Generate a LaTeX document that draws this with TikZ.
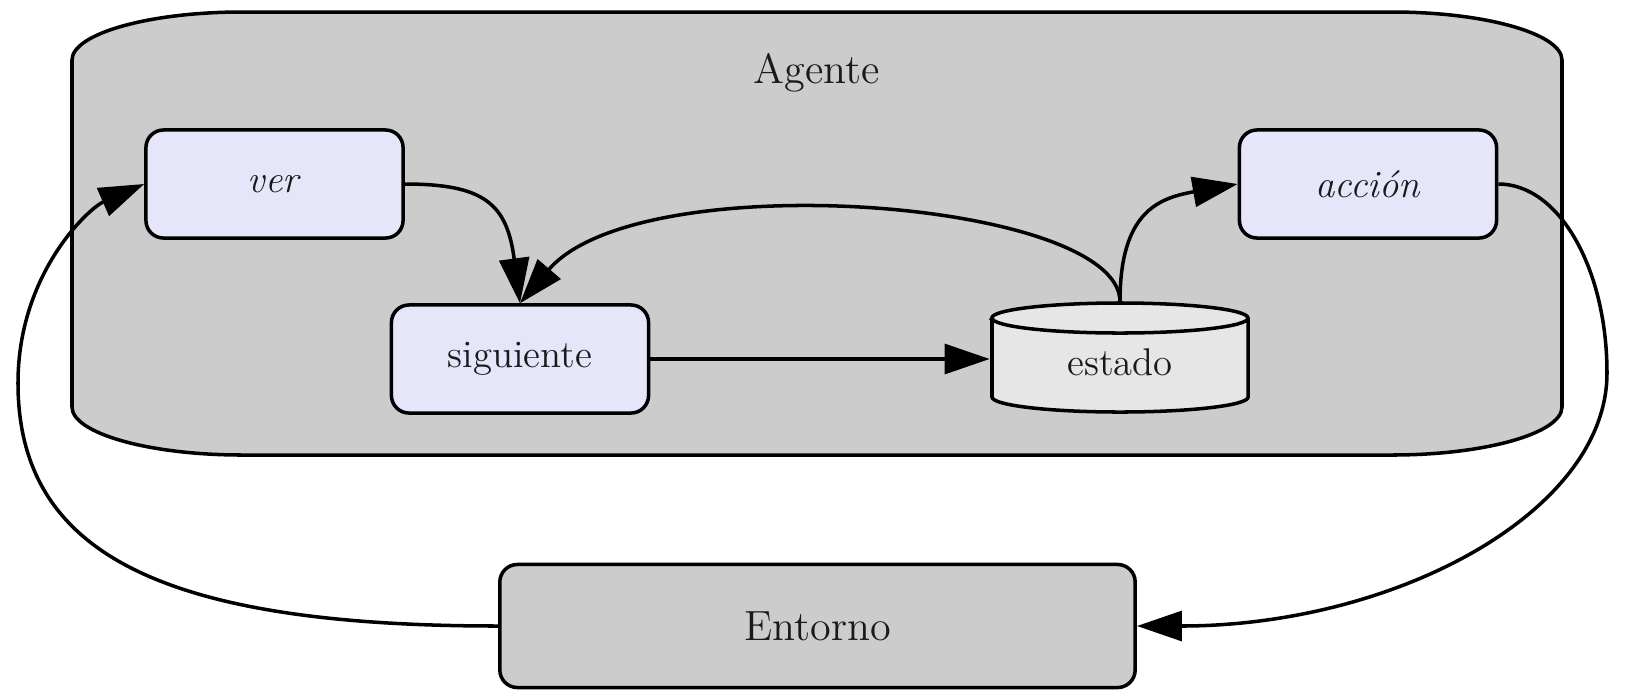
\documentclass[tikz,border=0pt]{standalone}
\usetikzlibrary{arrows.meta}
\definecolor{lavanda}{HTML}{E6E6FA}
\definecolor{grisclaro}{HTML}{E6E6E6}
\definecolor{gris}{HTML}{CCCCCC}
\definecolor{tinta}{HTML}{1A1A1A}

\begin{document}
\begin{tikzpicture}[x=0.01cm,y=-0.01cm,line width=1pt,
  caja/.style={draw,fill=lavanda,rounded corners=5pt,minimum width=2.57cm,minimum height=1.08cm,inner sep=0pt,text=tinta,font=\fontsize{11}{13}\selectfont},
  flecha/.style={-{Triangle[length=12.8pt,width=8.5pt]}}]

\useasboundingbox (0,0) rectangle (1626,696);

% agente
\draw[fill=gris] (72,60) -- (72,407) .. controls (72,433) and (148,455) .. (242,455) -- (1392,455)
  .. controls (1486,455) and (1562,433) .. (1562,407) -- (1562,60)
  .. controls (1562,34) and (1486,12) .. (1392,12) -- (242,12)
  .. controls (148,12) and (72,34) .. (72,60) -- cycle;
\node[text=tinta,font=\fontsize{12}{14}\selectfont] (agente) at (817,73) {Agente};

\node[caja] (ver) at (274.5,184) {\textit{ver}};
\node[caja] (siguiente) at (520,359) {siguiente};
\node[caja] (accion) at (1368,184) {\textit{acción}};

% cilindro
\draw[fill=grisclaro] (992,318) -- (992,397) arc[start angle=180,end angle=360,x radius=1.28cm,y radius=0.15cm]
  -- (1248,318) arc[start angle=0,end angle=180,x radius=1.28cm,y radius=0.15cm] -- cycle;
\draw (992,318) arc[start angle=180,end angle=360,x radius=1.28cm,y radius=0.15cm];
\node[caja,draw=none,fill=none,text height=10.6pt] (estado) at (1120,357.5) {estado};

\node[caja,fill=gris,minimum width=6.35cm,minimum height=1.23cm,font=\fontsize{12}{14}\selectfont] (entorno) at (817.5,626) {Entorno};

\coordinate (izq) at (18,383);
\coordinate (der) at (1607,373);

\draw[flecha] (ver.east) .. controls +(80,0) and +(-13,-99) .. (siguiente.north);
\draw[flecha] (estado.north) .. controls +(0,-102) and +(120,-140) .. (siguiente.north);
\draw[flecha] (siguiente.east) -- (siguiente.east -| estado.west);
\draw[flecha] (estado.north) .. controls +(0,-90) and +(-79,14) .. (accion.west);
\draw[flecha] (accion.east) .. controls +(61,0) and +(0,-104) .. (der)
  .. controls +(0,139) and +(258,0) .. (entorno.east);
\draw[flecha] (entorno.west) .. controls +(-337,0) and +(0,170) .. (izq)
  .. controls +(0,-110) and +(-55,24) .. (ver.west);
\end{tikzpicture}
\end{document}
